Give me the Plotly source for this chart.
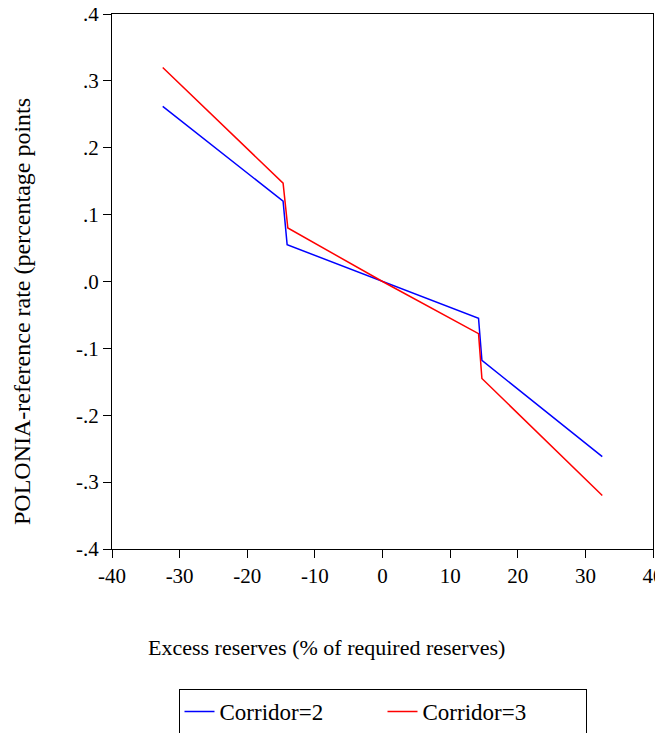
import plotly.graph_objects as go

# Data
x_c2 = [-32.5, -14.7, -14.1, 0.0, 14.2, 14.7, 32.5]
y_c2 = [0.262, 0.120, 0.055, 0.0, -0.055, -0.118, -0.262]
x_c3 = [-32.5, -14.7, -14.0, 0.0, 14.2, 14.7, 32.5]
y_c3 = [0.320, 0.147, 0.080, 0.0, -0.078, -0.145, -0.320]

x_ticks = [-40, -30, -20, -10, 0, 10, 20, 30, 40]
x_ticktext = ["-40", "-30", "-20", "-10", "0", "10", "20", "30", "40"]
y_ticks = [0.4, 0.3, 0.2, 0.1, 0.0, -0.1, -0.2, -0.3, -0.4]
y_ticktext = [".4", ".3", ".2", ".1", ".0", "-.1", "-.2", "-.3", "-.4"]

x_title = "Excess reserves (% of required reserves)"
y_title = "POLONIA-reference rate (percentage points"

font_family = "Liberation Serif"

# the page body adds an 8px offset, so the figure is 8px smaller on each axis
OFF = 8
W, H = 663 - OFF, 733 - OFF
L, R, T, B = 112 - OFF, 10, 14 - OFF, 184
pw, ph = W - L - R, H - T - B


def px_x(page_x):
    return (page_x - OFF - L) / pw


def px_y(page_y):
    return (T + ph - (page_y - OFF)) / ph


fig = go.Figure()
fig.add_trace(go.Scatter(x=x_c2, y=y_c2, mode="lines", name="Corridor=2",
                         line=dict(color="#0000FF", width=1.5)))
fig.add_trace(go.Scatter(x=x_c3, y=y_c3, mode="lines", name="Corridor=3",
                         line=dict(color="#FF0000", width=1.5)))

fig.update_layout(
    width=W, height=H,
    margin=dict(l=L, r=R, t=T, b=B, autoexpand=False),
    paper_bgcolor="white", plot_bgcolor="white",
    font=dict(family=font_family, size=21, color="black"),
    showlegend=True,
    legend=dict(
        orientation="h", x=0.5, xanchor="center",
        y=px_y(689), yanchor="top",
        bordercolor="black", borderwidth=1,
        font=dict(family=font_family, size=23),
        entrywidth=158, entrywidthmode="pixels",
    ),
    xaxis=dict(
        range=[-40, 40], tickvals=x_ticks, ticktext=x_ticktext,
        ticks="outside", ticklen=8, ticklabeloverflow="allow",
        tickcolor="black", showline=True, mirror=True, linecolor="black",
        linewidth=1, showgrid=False, zeroline=False, automargin=False,
        tickfont=dict(size=21),
    ),
    yaxis=dict(
        range=[-0.4, 0.4], tickvals=y_ticks, ticktext=y_ticktext,
        ticks="outside", ticklen=8, ticklabeloverflow="allow",
        tickcolor="black", showline=True,
        mirror=True, linecolor="black", linewidth=1, showgrid=False,
        zeroline=False, automargin=False, tickfont=dict(size=21),
    ),
    annotations=[
        dict(text=x_title, xref="paper", yref="paper",
             x=px_x(326), y=px_y(647),
             xanchor="center", yanchor="middle", showarrow=False,
             font=dict(family=font_family, size=22)),
        dict(text=y_title, xref="paper", yref="paper", textangle=-90,
             x=px_x(22), y=px_y(312),
             xanchor="center", yanchor="middle", showarrow=False,
             font=dict(family=font_family, size=24)),
    ],
)

fig.write_html("out.html")
